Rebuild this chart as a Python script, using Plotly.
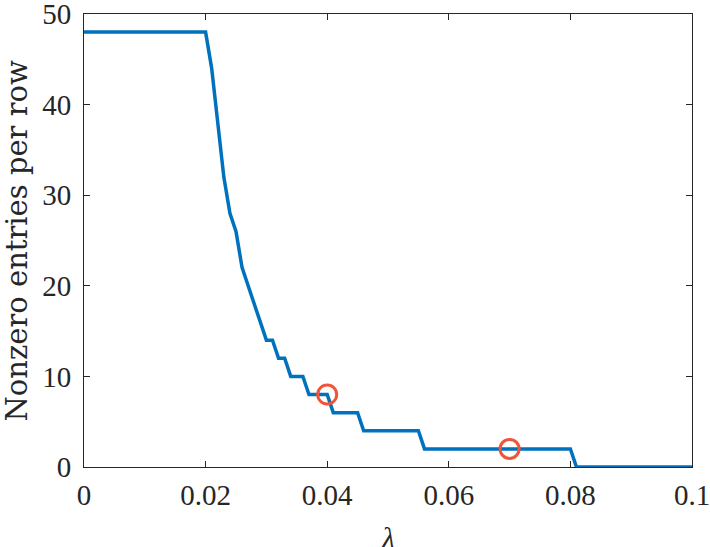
import numpy as np
import plotly.graph_objects as go

# lambda values (step 0.001) and nonzero entries per row
lam = [round(i * 0.001, 3) for i in range(0, 101)]
nnz = ([48] * 21 +                      # 0.000 .. 0.020
       [44, 38, 32, 28, 26, 22, 20, 18, 16, 14, 14,   # 0.021 .. 0.031
        12, 12, 10, 10, 10, 8, 8, 8, 8,               # 0.032 .. 0.040
        6, 6, 6, 6, 6] +                              # 0.041 .. 0.045
       [4] * 10 +                                     # 0.046 .. 0.055
       [2] * 25 +                                     # 0.056 .. 0.080
       [0] * 20)                                      # 0.081 .. 0.100

mark_lam = [0.04, 0.07]
mark_nnz = [8, 2]

xticks = [0, 0.02, 0.04, 0.06, 0.08, 0.1]
xticklabels = ["0", "0.02", "0.04", "0.06", "0.08", "0.1"]
yticks = [0, 10, 20, 30, 40, 50]
yticklabels = ["0", "10", "20", "30", "40", "50"]

FONT = "Liberation Serif"
AX = "#262626"

fig = go.Figure()
fig.add_trace(go.Scatter(x=lam, y=nnz, mode="lines",
                         line=dict(color="#0072BD", width=3.5),
                         showlegend=False, hoverinfo="skip", cliponaxis=False))
fig.add_trace(go.Scatter(x=mark_lam, y=mark_nnz, mode="markers",
                         marker=dict(symbol="circle-open", size=19,
                                     line=dict(color="#FF0000", width=3)),
                         showlegend=False, hoverinfo="skip"))

axis_common = dict(showline=True, linecolor=AX, linewidth=1, mirror="ticks",
                   ticks="inside", ticklen=6, tickcolor=AX, showgrid=False,
                   zeroline=False, ticklabeloverflow="allow",
                   tickfont=dict(family=FONT, size=29, color=AX))

fig.update_layout(
    width=710, height=547,
    margin=dict(l=84, r=18, t=14, b=80, pad=0, autoexpand=False),
    paper_bgcolor="white", plot_bgcolor="white",
    xaxis=dict(range=[-1e-9, 0.1 + 1e-9], tickvals=xticks, ticktext=xticklabels,
               ticklabelstandoff=2, **axis_common),
    yaxis=dict(range=[-1e-7, 50 + 1e-7], tickvals=yticks, ticktext=yticklabels,
               ticklabelstandoff=6, **axis_common),
    annotations=[
        dict(text="<i>λ</i>", xref="paper", yref="paper", x=0.5, y=-70/453,
             xanchor="center", yanchor="middle", showarrow=False,
             font=dict(family=FONT, size=30, color=AX)),
        dict(text="Nonzero entries per row", xref="paper", yref="paper",
             x=-68/608, y=0.5, xanchor="center", yanchor="middle",
             textangle=-90, showarrow=False,
             font=dict(family="DejaVu Serif", size=29, color=AX)),
    ],
)

fig.write_html("out.html", config={"displayModeBar": False},
               post_script="document.body.style.margin='0';document.body.style.padding='0';")
